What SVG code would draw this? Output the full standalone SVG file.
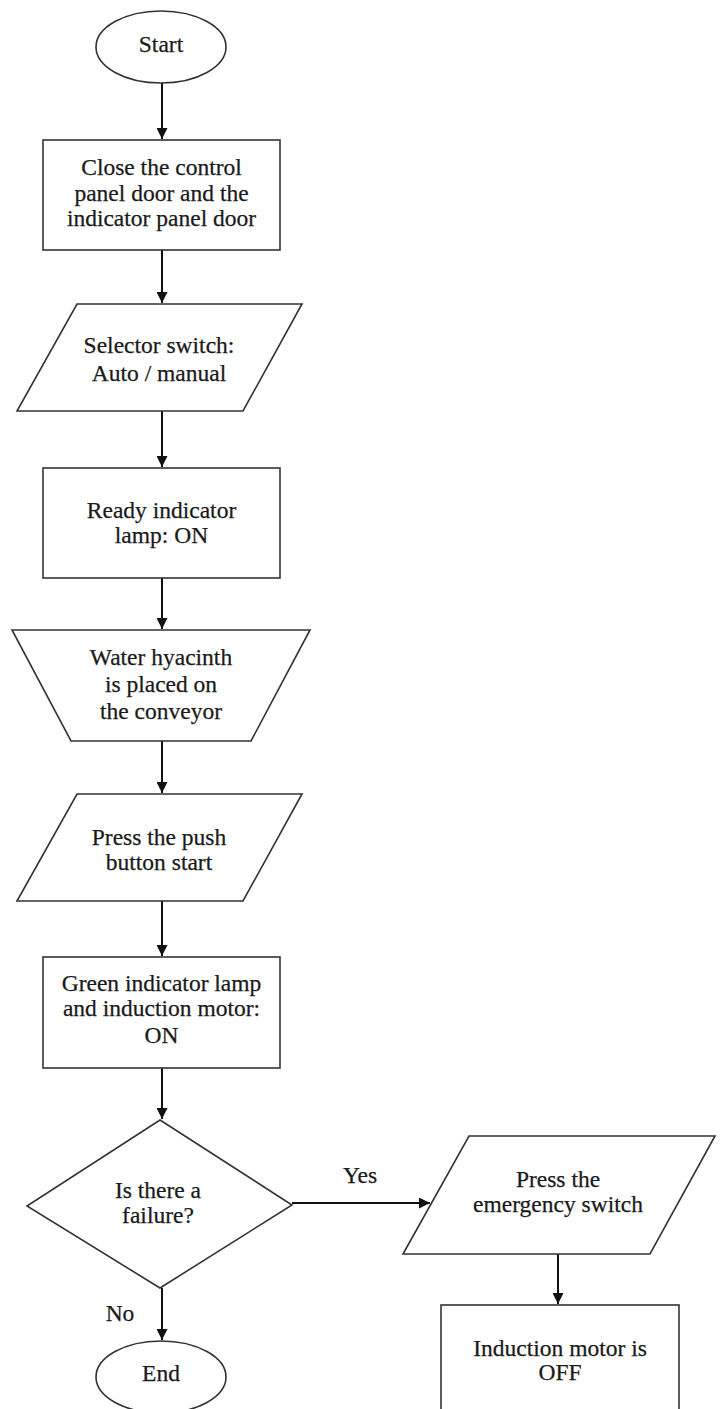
<svg xmlns="http://www.w3.org/2000/svg" width="721" height="1409" viewBox="0 0 721 1409">
<defs>
<marker id="arr" viewBox="0 0 10 10" refX="10" refY="5" markerWidth="5.5" markerHeight="5.5" orient="auto" markerUnits="strokeWidth">
<path d="M0,0 L10,5 L0,10 z" fill="#111"/>
</marker>
<style>
.shape{fill:#fff;stroke:#333;stroke-width:1.6}
.t{font-family:"Liberation Serif","Times New Roman",serif;font-size:23.5px;fill:#1a1a1a;stroke:#1a1a1a;stroke-width:0.25;text-anchor:middle}
.c{stroke:#111;stroke-width:2;fill:none;marker-end:url(#arr)}
</style>
</defs>
<rect width="721" height="1409" fill="#fff"/>
<g id="connectors">
<line class="c" x1="162" y1="83" x2="162" y2="139"/>
<line class="c" x1="162" y1="250" x2="162" y2="303"/>
<line class="c" x1="162" y1="411" x2="162" y2="467"/>
<line class="c" x1="162" y1="578" x2="162" y2="629"/>
<line class="c" x1="162" y1="741" x2="162" y2="793"/>
<line class="c" x1="162" y1="901" x2="162" y2="956"/>
<line class="c" x1="162" y1="1068" x2="162" y2="1119"/>
<line class="c" x1="162" y1="1288" x2="162" y2="1340"/>
<line class="c" x1="292" y1="1203" x2="430" y2="1203"/>
<line class="c" x1="558" y1="1254" x2="558" y2="1304"/>
<text class="t" x="360" y="1183">Yes</text>
<text class="t" x="120" y="1321">No</text>
</g>
<g id="start">
<ellipse class="shape" cx="161" cy="47" rx="65" ry="36"/>
<text class="t" x="161" y="52">Start</text>
</g>
<g id="close-doors">
<rect class="shape" x="43" y="140" width="237" height="110"/>
<text class="t" x="161.5" y="175">Close the control</text>
<text class="t" x="161.5" y="200.5">panel door and the</text>
<text class="t" x="161.5" y="226">indicator panel door</text>
</g>
<g id="selector">
<polygon class="shape" points="77,304 302,304 243,411 17,411"/>
<text class="t" x="159" y="353">Selector switch:</text>
<text class="t" x="159" y="381">Auto / manual</text>
</g>
<g id="ready-lamp">
<rect class="shape" x="43" y="468" width="237" height="110"/>
<text class="t" x="161.5" y="518">Ready indicator</text>
<text class="t" x="161.5" y="543">lamp: ON</text>
</g>
<g id="water-hyacinth">
<polygon class="shape" points="12,630 310,630 251,741 71,741"/>
<text class="t" x="161" y="665">Water hyacinth</text>
<text class="t" x="161" y="692">is placed on</text>
<text class="t" x="161" y="719">the conveyor</text>
</g>
<g id="push-start">
<polygon class="shape" points="77,794 302,794 243,901 17,901"/>
<text class="t" x="159" y="845">Press the push</text>
<text class="t" x="159" y="870">button start</text>
</g>
<g id="green-lamp">
<rect class="shape" x="43" y="957" width="237" height="111"/>
<text class="t" x="161.5" y="991">Green indicator lamp</text>
<text class="t" x="161.5" y="1016">and induction motor:</text>
<text class="t" x="161.5" y="1043">ON</text>
</g>
<g id="failure">
<polygon class="shape" points="160,1120 292,1205 160,1288 27,1206"/>
<text class="t" x="158" y="1198">Is there a</text>
<text class="t" x="158" y="1223">failure?</text>
</g>
<g id="end">
<ellipse class="shape" cx="161" cy="1377" rx="65" ry="36"/>
<text class="t" x="161" y="1381">End</text>
</g>
<g id="emergency">
<polygon class="shape" points="469,1136 715,1136 650,1254 403,1254"/>
<text class="t" x="558" y="1187">Press the</text>
<text class="t" x="558" y="1212">emergency switch</text>
</g>
<g id="motor-off">
<rect class="shape" x="441" y="1305" width="238" height="120"/>
<text class="t" x="560" y="1356">Induction motor is</text>
<text class="t" x="560" y="1380">OFF</text>
</g>
</svg>
